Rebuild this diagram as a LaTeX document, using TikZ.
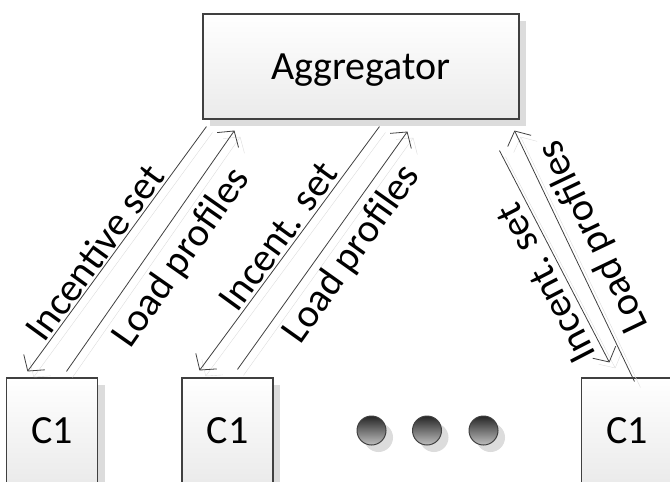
\documentclass[tikz,border=0pt]{standalone}
\usepackage{fontspec}
\setmainfont{Carlito}
\usetikzlibrary{arrows.meta,shadows,calc}
\definecolor{edgec}{HTML}{404040}
\definecolor{shadec}{HTML}{DCDCDC}
\begin{document}
\begin{tikzpicture}[x=1pt,y=-1pt,
  box/.style={draw=edgec, line width=1.1pt, top color=white, bottom color=black!8,
    drop shadow={shadow xshift=7pt, shadow yshift=-7pt, opacity=1, fill=shadec},
    inner sep=0pt, font=\fontsize{40}{42}\selectfont},
  conn/.style={draw=edgec, line width=0.8pt,
    preaction={draw=shadec, transform canvas={shift={(6,6)}}}},
  tip/.style={-{Straight Barb[length=11pt,width=26pt]}},
  lbl/.style={font=\fontsize{40}{42}\selectfont, inner sep=0pt},
  dot/.style={circle, minimum size=29pt, inner sep=0pt, draw=black!75, line width=1pt,
    top color=black!85, bottom color=black!25,
    drop shadow={shadow xshift=7pt, shadow yshift=-7pt, opacity=1, fill=shadec}}
]
\useasboundingbox (0,0) rectangle (670,482);
% boxes
\node[box, minimum width=316pt, minimum height=105pt, text depth=0pt] (agg) at (361,66.5) {Aggregator};
\node[box, minimum width=91pt, minimum height=105pt] (c1a) at (52.2,430.5) {C1};
\node[box, minimum width=91pt, minimum height=105pt] (c1b) at (227.5,430.5) {C1};
\node[box, minimum width=91pt, minimum height=105pt] (c1c) at (627.2,430.5) {C1};
% dots
\node[dot] (d1) at (371.5,430.5) {};
\node[dot] (d2) at (427,430.5) {};
\node[dot] (d3) at (483.5,430.5) {};
% connector end points
\coordinate (i1a) at ($(agg.south west)+(4,7)$);
\coordinate (l1b) at ($(agg.south west)+(32,11)$);
\coordinate (i2a) at ($(agg.south west)+(177,7)$);
\coordinate (l2b) at ($(agg.south west)+(205,12)$);
\coordinate (i3a) at ($(agg.south west)+(297,31)$);
\coordinate (l3b) at ($(agg.south west)+(312,11)$);
\coordinate (i1b) at ($(c1a.north west)+(21.3,-6)$);
\coordinate (l1a) at ($(c1a.north west)+(60.3,-6)$);
\coordinate (i2b) at ($(c1b.north west)+(18,-7)$);
\coordinate (l2a) at ($(c1b.north west)+(56,-8)$);
\coordinate (i3b) at ($(c1c.north west)+(28.3,-15)$);
\coordinate (l3a) at ($(c1c.north west)+(53.3,4)$);
% connectors
\draw[conn,tip] (i1a) -- (i1b);
\draw[conn,tip] (l1a) -- (l1b);
\draw[conn,tip] (i2a) -- (i2b);
\draw[conn,tip] (l2a) -- (l2b);
\draw[conn,tip] (i3a) -- (i3b);
\draw[conn,tip] (l3a) -- (l3b);
% labels
\node[lbl, rotate=54] (t1) at (94.5,252.5) {Incentive set};
\node[lbl, rotate=55] (t2) at (182,258) {Load profiles};
\node[lbl, rotate=54] (t3) at (278.5,236.5) {Incent. set};
\node[lbl, rotate=54.6] (t4) at (352,254) {Load profiles};
\node[lbl, rotate=117.3] (t5) at (546,283.5) {Incent. set};
\node[lbl, rotate=115.6] (t6) at (594,236.5) {Load profiles};
\end{tikzpicture}
\end{document}
